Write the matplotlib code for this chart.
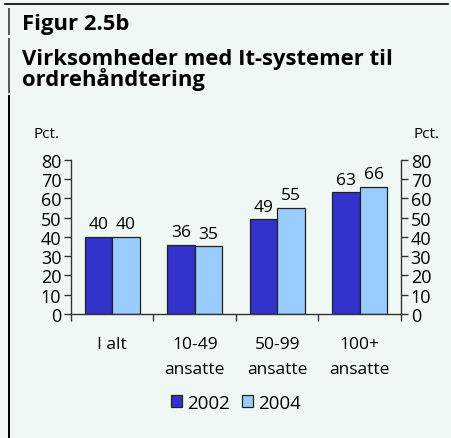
import numpy as np
import matplotlib
matplotlib.use("Agg")
import matplotlib.pyplot as plt
from matplotlib.lines import Line2D

plt.rcParams['font.family'] = ['Open Sans', 'DejaVu Sans']

# data
categories = ["I alt", "10-49\nansatte", "50-99\nansatte", "100+\nansatte"]
years = ["2002", "2004"]
values_2002 = [40, 36, 49, 63]
values_2004 = [40, 35, 55, 66]
yticks = [0, 10, 20, 30, 40, 50, 60, 70, 80]

bg = "#eff8f5"
col_2002 = "#3333cc"
col_2004 = "#99ccff"
edge = "#222222"

fig = plt.figure(figsize=(4.52, 4.39), dpi=100, facecolor=bg)

# frame lines (top rule and broken left rule)
fig.add_artist(Line2D([5 / 452, 448 / 452], [1 - 5 / 439, 1 - 5 / 439],
                      color="black", lw=1.2, transform=fig.transFigure))
for y0, y1, c in [(10, 35, "#555555"), (40, 93, "#555555"), (97, 439, "black")]:
    fig.add_artist(Line2D([9 / 452, 9 / 452], [1 - y0 / 439, 1 - y1 / 439],
                          color=c, lw=1.4, transform=fig.transFigure))

# titles
title_fs = 15.8
fig.text(22 / 452, 1 - 30 / 439, "Figur 2.5b", fontsize=title_fs, fontweight="bold",
         ha="left", va="baseline")
fig.text(22 / 452, 1 - 65 / 439, "Virksomheder med It-systemer til",
         fontsize=title_fs, fontweight="bold", ha="left", va="baseline")
fig.text(22 / 452, 1 - 86 / 439, "ordrehåndtering",
         fontsize=title_fs, fontweight="bold", ha="left", va="baseline")

ax = fig.add_axes([71 / 452, 1 - 315 / 439, 330 / 452, (315 - 160.7) / 439])
ax.set_facecolor(bg)

x = np.arange(len(categories))
w = 0.335
b1 = ax.bar(x - w / 2, values_2002, w, color=col_2002, edgecolor=edge, lw=0.9,
            label=years[0])
b2 = ax.bar(x + w / 2, values_2004, w, color=col_2004, edgecolor=edge, lw=0.9,
            label=years[1])

for bars, vals in [(b1, values_2002), (b2, values_2004)]:
    for rect, v in zip(bars, vals):
        ax.text(rect.get_x() + rect.get_width() / 2, v + 4.5, str(v),
                ha="center", va="baseline", fontsize=12.5)

ax.set_xlim(-0.5, len(categories) - 0.5)
ax.set_ylim(0, 80)
ax.set_yticks(yticks)
ax.tick_params(axis="y", direction="out", length=5, width=1, color="#333333",
               left=True, right=True, labelleft=True, labelright=True,
               labelsize=13, pad=2)

ax.set_xticks(np.arange(len(categories) + 1) - 0.5)
ax.set_xticklabels([])
ax.set_xticks(x, minor=True)
ax.set_xticklabels(categories, minor=True, fontsize=12.5, linespacing=1.7)
ax.tick_params(axis="x", which="major", direction="out", length=5, width=1,
               color="#333333")
ax.tick_params(axis="x", which="minor", length=0, pad=16)

ax.spines["top"].set_visible(False)
for s in ["left", "right", "bottom"]:
    ax.spines[s].set_color("#333333")
    ax.spines[s].set_linewidth(1)

fig.text(47 / 452, 1 - 135 / 439, "Pct.", fontsize=11, ha="center", va="center")
fig.text(427 / 452, 1 - 135 / 439, "Pct.", fontsize=11, ha="center", va="center")

fig.legend(handles=[b1, b2], labels=years, loc="center",
           bbox_to_anchor=(236 / 452, 1 - 404 / 439), ncol=2, frameon=False,
           fontsize=13.5, handlelength=0.6, handleheight=0.6, handletextpad=0.3,
           columnspacing=0.6)

fig.savefig("out.png", dpi=100, facecolor=bg)
